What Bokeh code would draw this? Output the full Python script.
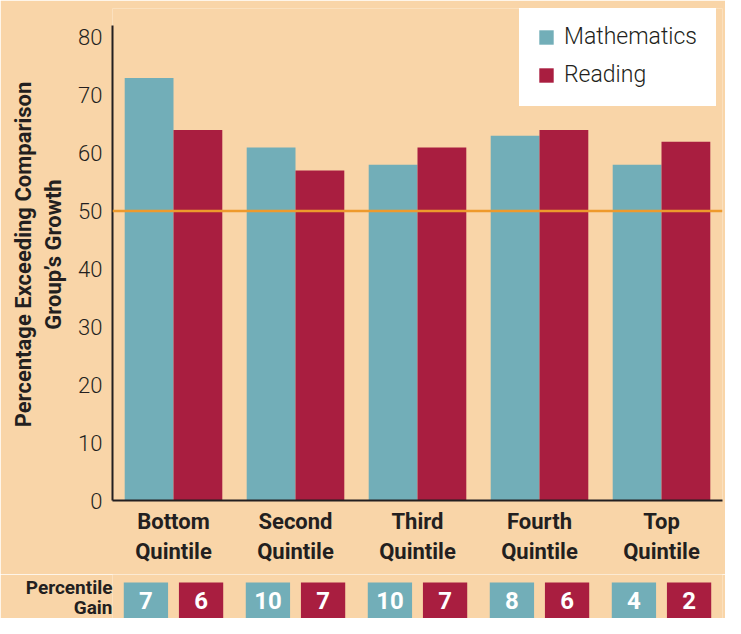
from bokeh.plotting import figure
from bokeh.models import FactorRange, ColumnDataSource, Legend, LegendItem, Span, FixedTicker
from bokeh.transform import dodge
from bokeh.layouts import column
from bokeh.core.properties import value
from bokeh.embed import file_html
from bokeh.resources import INLINE

# ---- data ----
quintiles = ["Bottom Quintile", "Second Quintile", "Third Quintile", "Fourth Quintile", "Top Quintile"]
math_pct = [73, 61, 58, 63, 58]
reading_pct = [64, 57, 61, 64, 62]
math_gain = [7, 10, 10, 8, 4]
reading_gain = [6, 7, 7, 6, 2]
y_ticks = [0, 10, 20, 30, 40, 50, 60, 70, 80]
y_axis_max = 82
threshold = 50
gain_label = ["Percentile", "Gain"]

# ---- style ----
BG = "#F9D5A8"
TEAL = "#72AEB8"
RED = "#A91E40"
ORANGE = "#EE9A2C"
DARK = "#231F20"
FONT = "Roboto"
LIGHT = "Roboto Light, Roboto"

factors = [q.replace(" ", "\n") for q in quintiles]
src = ColumnDataSource(dict(q=factors, math=math_pct, reading=reading_pct,
                            mg=[str(v) for v in math_gain], rg=[str(v) for v in reading_gain]))

p = figure(width=725, height=574, x_range=FactorRange(*factors, range_padding=0),
           y_range=(0, 85), output_backend="svg", toolbar_location=None,
           min_border_left=112, min_border_right=3, min_border_top=8, min_border_bottom=74)
p.background_fill_color = BG
p.border_fill_color = BG
p.outline_line_color = None
p.grid.grid_line_color = None

r1 = p.vbar(x=dodge("q", -0.2, range=p.x_range), top="math", width=0.4, source=src,
            fill_color=TEAL, line_color=None)
r2 = p.vbar(x=dodge("q", 0.2, range=p.x_range), top="reading", width=0.4, source=src,
            fill_color=RED, line_color=None)

p.add_layout(Span(location=threshold, dimension="width", line_color=ORANGE, line_width=2.5))

for ax in (p.xaxis[0], p.yaxis[0]):
    ax.axis_line_color = DARK
    ax.axis_line_width = 2
    ax.major_tick_line_color = None
    ax.minor_tick_line_color = None
    ax.major_tick_out = 0
    ax.major_tick_in = 0
    ax.minor_tick_out = 0
    ax.major_label_text_color = DARK
    ax.major_label_text_font = FONT

p.yaxis.ticker = FixedTicker(ticks=y_ticks)
p.yaxis.bounds = (0, y_axis_max)
p.yaxis.major_label_text_font = LIGHT
p.yaxis.major_label_text_font_size = "22px"
p.yaxis.major_label_standoff = 10
p.yaxis.axis_label = "Percentage Exceeding Comparison\nGroup\u2019s Growth"
p.yaxis.axis_label_text_font = FONT
p.yaxis.axis_label_text_font_style = "bold"
p.yaxis.axis_label_text_font_size = "22px"
p.yaxis.axis_label_text_color = DARK
p.yaxis.axis_label_standoff = 9

p.xaxis.major_label_text_font_size = "22px"
p.xaxis.major_label_text_font_style = "bold"
p.xaxis.major_label_standoff = 8

legend = Legend(items=[LegendItem(label="Mathematics", renderers=[r1]),
                       LegendItem(label="Reading", renderers=[r2])],
                location=(407, 394))
legend.background_fill_color = "white"
legend.background_fill_alpha = 1
legend.border_line_color = "white"
legend.border_line_width = 1
legend.label_text_font = LIGHT
legend.label_text_font_size = "23px"
legend.label_text_color = DARK
legend.glyph_width = 18
legend.glyph_height = 18
legend.label_standoff = 9
legend.spacing = 11
legend.padding = 17
legend.margin = 0
legend.label_height = 18
legend.label_width = 134
p.add_layout(legend)

# ---- percentile gain strip ----
g = figure(width=725, height=44, x_range=p.x_range, y_range=(0, 1),
           output_backend="svg", toolbar_location=None, x_axis_location=None,
           min_border_left=112, min_border_right=3, min_border_top=0, min_border_bottom=0)
g.background_fill_color = BG
g.border_fill_color = BG
g.outline_line_color = None
g.grid.grid_line_color = None

g.rect(x=dodge("q", -0.226, range=g.x_range), y=0.3, width=0.363, height=1.04, source=src,
       fill_color=TEAL, line_color=None)
g.rect(x=dodge("q", 0.226, range=g.x_range), y=0.3, width=0.363, height=1.04, source=src,
       fill_color=RED, line_color=None)
g.text(x=dodge("q", -0.226, range=g.x_range), y=0.41, text="mg", source=src,
       text_color="white", text_font=value(FONT), text_font_style="bold", text_font_size="24px",
       text_align="center", text_baseline="middle")
g.text(x=dodge("q", 0.226, range=g.x_range), y=0.41, text="rg", source=src,
       text_color="white", text_font=value(FONT), text_font_style="bold", text_font_size="24px",
       text_align="center", text_baseline="middle")

g.yaxis.ticker = FixedTicker(ticks=[0.7, 0.15])
g.yaxis.major_label_overrides = {0.7: gain_label[0], 0.15: gain_label[1]}
g.yaxis.axis_line_color = None
g.yaxis.major_tick_line_color = None
g.yaxis.minor_tick_line_color = None
g.yaxis.major_tick_out = 0
g.yaxis.major_tick_in = 0
g.yaxis.minor_tick_out = 0
g.yaxis.major_label_standoff = 0
g.yaxis.major_label_text_font = FONT
g.yaxis.major_label_text_font_style = "bold"
g.yaxis.major_label_text_font_size = "19px"
g.yaxis.major_label_text_color = DARK

layout = column(p, g, spacing=0)
open("out.html", "w").write(file_html(layout, INLINE))
